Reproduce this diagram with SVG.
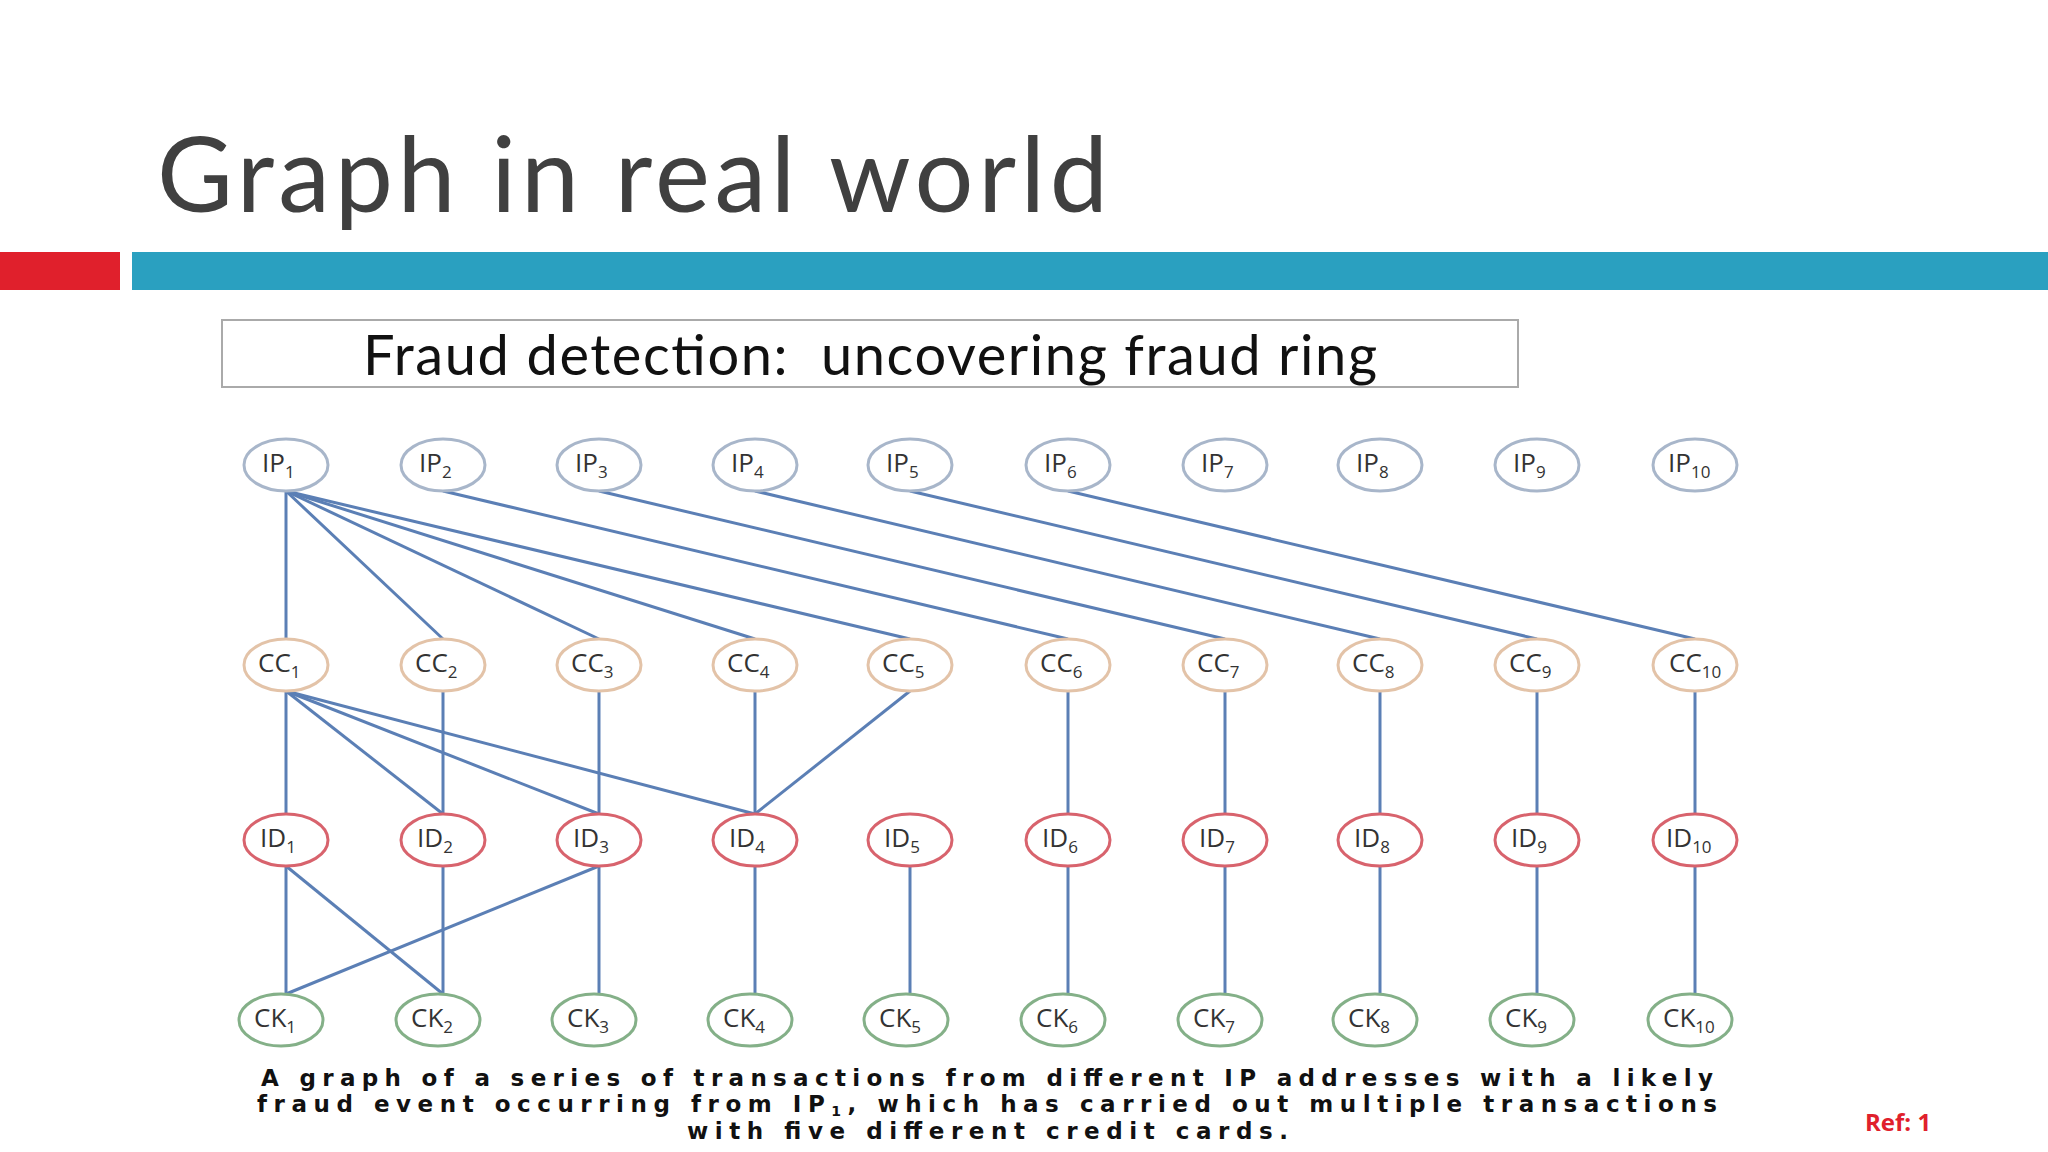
<svg xmlns="http://www.w3.org/2000/svg" width="2048" height="1152" viewBox="0 0 2048 1152">
<style>
.t{font-family:"Open Sans","DejaVu Sans",sans-serif;font-size:26px;fill:#333}
.s{font-size:17px}
.n{fill:#fff;stroke-width:3}
.ip{stroke:#a8b6ca}.cc{stroke:#e3c3a8}.id{stroke:#d8636d}.ck{stroke:#84b088}
#edges line{stroke:#5b7fb5;stroke-width:3}
.cap{font-family:"DejaVu Sans","Open Sans",sans-serif;font-weight:bold;font-size:23px;fill:#111}
</style>
<rect width="2048" height="1152" fill="#fff"/>
<text x="157" y="212" font-family="Lato,'Open Sans',sans-serif" font-size="104" fill="#404040" textLength="951" lengthAdjust="spacing">Graph in real world</text>
<rect x="0" y="252" width="120" height="38" fill="#e0202c"/>
<rect x="132" y="252" width="1916" height="38" fill="#2aa0c0"/>
<g id="header"><rect x="222" y="320" width="1296" height="67" fill="#fff" stroke="#aaa" stroke-width="2"/>
<text x="363" y="375" font-family="Lato,'Open Sans',sans-serif" font-size="56" fill="#111" xml:space="preserve" textLength="1014" lengthAdjust="spacing">Fraud detection:  uncovering fraud ring</text></g>
<g id="edges">
<line x1="286" y1="491" x2="286" y2="639"/><line x1="286" y1="491" x2="443" y2="639"/><line x1="286" y1="491" x2="599" y2="639"/><line x1="286" y1="491" x2="755" y2="639"/><line x1="286" y1="491" x2="910" y2="639"/>
<line x1="443" y1="491" x2="1068" y2="639"/><line x1="599" y1="491" x2="1225" y2="639"/><line x1="755" y1="491" x2="1380" y2="639"/><line x1="910" y1="491" x2="1537" y2="639"/><line x1="1068" y1="491" x2="1695" y2="639"/>
<line x1="286" y1="691" x2="286" y2="814"/><line x1="286" y1="691" x2="443" y2="814"/><line x1="286" y1="691" x2="599" y2="814"/><line x1="286" y1="691" x2="755" y2="814"/>
<line x1="443" y1="691" x2="443" y2="814"/><line x1="599" y1="691" x2="599" y2="814"/><line x1="755" y1="691" x2="755" y2="814"/><line x1="910" y1="691" x2="755" y2="814"/>
<line x1="1068" y1="691" x2="1068" y2="814"/><line x1="1225" y1="691" x2="1225" y2="814"/><line x1="1380" y1="691" x2="1380" y2="814"/><line x1="1537" y1="691" x2="1537" y2="814"/><line x1="1695" y1="691" x2="1695" y2="814"/>
<line x1="286" y1="866" x2="286" y2="994"/><line x1="286" y1="866" x2="443" y2="994"/><line x1="443" y1="866" x2="443" y2="994"/><line x1="599" y1="866" x2="286" y2="994"/><line x1="599" y1="866" x2="599" y2="994"/>
<line x1="755" y1="866" x2="755" y2="994"/><line x1="910" y1="866" x2="910" y2="994"/><line x1="1068" y1="866" x2="1068" y2="994"/><line x1="1225" y1="866" x2="1225" y2="994"/><line x1="1380" y1="866" x2="1380" y2="994"/><line x1="1537" y1="866" x2="1537" y2="994"/><line x1="1695" y1="866" x2="1695" y2="994"/>
</g>
<g id="nodes">
<g id="IP1"><ellipse class="n ip" cx="286" cy="465" rx="42" ry="26"/><text class="t" x="262" y="472">IP<tspan class="s" dy="6">1</tspan></text></g>
<g id="IP2"><ellipse class="n ip" cx="443" cy="465" rx="42" ry="26"/><text class="t" x="419" y="472">IP<tspan class="s" dy="6">2</tspan></text></g>
<g id="IP3"><ellipse class="n ip" cx="599" cy="465" rx="42" ry="26"/><text class="t" x="575" y="472">IP<tspan class="s" dy="6">3</tspan></text></g>
<g id="IP4"><ellipse class="n ip" cx="755" cy="465" rx="42" ry="26"/><text class="t" x="731" y="472">IP<tspan class="s" dy="6">4</tspan></text></g>
<g id="IP5"><ellipse class="n ip" cx="910" cy="465" rx="42" ry="26"/><text class="t" x="886" y="472">IP<tspan class="s" dy="6">5</tspan></text></g>
<g id="IP6"><ellipse class="n ip" cx="1068" cy="465" rx="42" ry="26"/><text class="t" x="1044" y="472">IP<tspan class="s" dy="6">6</tspan></text></g>
<g id="IP7"><ellipse class="n ip" cx="1225" cy="465" rx="42" ry="26"/><text class="t" x="1201" y="472">IP<tspan class="s" dy="6">7</tspan></text></g>
<g id="IP8"><ellipse class="n ip" cx="1380" cy="465" rx="42" ry="26"/><text class="t" x="1356" y="472">IP<tspan class="s" dy="6">8</tspan></text></g>
<g id="IP9"><ellipse class="n ip" cx="1537" cy="465" rx="42" ry="26"/><text class="t" x="1513" y="472">IP<tspan class="s" dy="6">9</tspan></text></g>
<g id="IP10"><ellipse class="n ip" cx="1695" cy="465" rx="42" ry="26"/><text class="t" x="1668" y="472">IP<tspan class="s" dy="6">10</tspan></text></g>
<g id="CC1"><ellipse class="n cc" cx="286" cy="665" rx="42" ry="26"/><text class="t" x="258" y="672">CC<tspan class="s" dy="6">1</tspan></text></g>
<g id="CC2"><ellipse class="n cc" cx="443" cy="665" rx="42" ry="26"/><text class="t" x="415" y="672">CC<tspan class="s" dy="6">2</tspan></text></g>
<g id="CC3"><ellipse class="n cc" cx="599" cy="665" rx="42" ry="26"/><text class="t" x="571" y="672">CC<tspan class="s" dy="6">3</tspan></text></g>
<g id="CC4"><ellipse class="n cc" cx="755" cy="665" rx="42" ry="26"/><text class="t" x="727" y="672">CC<tspan class="s" dy="6">4</tspan></text></g>
<g id="CC5"><ellipse class="n cc" cx="910" cy="665" rx="42" ry="26"/><text class="t" x="882" y="672">CC<tspan class="s" dy="6">5</tspan></text></g>
<g id="CC6"><ellipse class="n cc" cx="1068" cy="665" rx="42" ry="26"/><text class="t" x="1040" y="672">CC<tspan class="s" dy="6">6</tspan></text></g>
<g id="CC7"><ellipse class="n cc" cx="1225" cy="665" rx="42" ry="26"/><text class="t" x="1197" y="672">CC<tspan class="s" dy="6">7</tspan></text></g>
<g id="CC8"><ellipse class="n cc" cx="1380" cy="665" rx="42" ry="26"/><text class="t" x="1352" y="672">CC<tspan class="s" dy="6">8</tspan></text></g>
<g id="CC9"><ellipse class="n cc" cx="1537" cy="665" rx="42" ry="26"/><text class="t" x="1509" y="672">CC<tspan class="s" dy="6">9</tspan></text></g>
<g id="CC10"><ellipse class="n cc" cx="1695" cy="665" rx="42" ry="26"/><text class="t" x="1669" y="672">CC<tspan class="s" dy="6">10</tspan></text></g>
<g id="ID1"><ellipse class="n id" cx="286" cy="840" rx="42" ry="26"/><text class="t" x="260" y="847">ID<tspan class="s" dy="6">1</tspan></text></g>
<g id="ID2"><ellipse class="n id" cx="443" cy="840" rx="42" ry="26"/><text class="t" x="417" y="847">ID<tspan class="s" dy="6">2</tspan></text></g>
<g id="ID3"><ellipse class="n id" cx="599" cy="840" rx="42" ry="26"/><text class="t" x="573" y="847">ID<tspan class="s" dy="6">3</tspan></text></g>
<g id="ID4"><ellipse class="n id" cx="755" cy="840" rx="42" ry="26"/><text class="t" x="729" y="847">ID<tspan class="s" dy="6">4</tspan></text></g>
<g id="ID5"><ellipse class="n id" cx="910" cy="840" rx="42" ry="26"/><text class="t" x="884" y="847">ID<tspan class="s" dy="6">5</tspan></text></g>
<g id="ID6"><ellipse class="n id" cx="1068" cy="840" rx="42" ry="26"/><text class="t" x="1042" y="847">ID<tspan class="s" dy="6">6</tspan></text></g>
<g id="ID7"><ellipse class="n id" cx="1225" cy="840" rx="42" ry="26"/><text class="t" x="1199" y="847">ID<tspan class="s" dy="6">7</tspan></text></g>
<g id="ID8"><ellipse class="n id" cx="1380" cy="840" rx="42" ry="26"/><text class="t" x="1354" y="847">ID<tspan class="s" dy="6">8</tspan></text></g>
<g id="ID9"><ellipse class="n id" cx="1537" cy="840" rx="42" ry="26"/><text class="t" x="1511" y="847">ID<tspan class="s" dy="6">9</tspan></text></g>
<g id="ID10"><ellipse class="n id" cx="1695" cy="840" rx="42" ry="26"/><text class="t" x="1666" y="847">ID<tspan class="s" dy="6">10</tspan></text></g>
<g id="CK1"><ellipse class="n ck" cx="281" cy="1020" rx="42" ry="26"/><text class="t" x="254" y="1027">CK<tspan class="s" dy="6">1</tspan></text></g>
<g id="CK2"><ellipse class="n ck" cx="438" cy="1020" rx="42" ry="26"/><text class="t" x="411" y="1027">CK<tspan class="s" dy="6">2</tspan></text></g>
<g id="CK3"><ellipse class="n ck" cx="594" cy="1020" rx="42" ry="26"/><text class="t" x="567" y="1027">CK<tspan class="s" dy="6">3</tspan></text></g>
<g id="CK4"><ellipse class="n ck" cx="750" cy="1020" rx="42" ry="26"/><text class="t" x="723" y="1027">CK<tspan class="s" dy="6">4</tspan></text></g>
<g id="CK5"><ellipse class="n ck" cx="906" cy="1020" rx="42" ry="26"/><text class="t" x="879" y="1027">CK<tspan class="s" dy="6">5</tspan></text></g>
<g id="CK6"><ellipse class="n ck" cx="1063" cy="1020" rx="42" ry="26"/><text class="t" x="1036" y="1027">CK<tspan class="s" dy="6">6</tspan></text></g>
<g id="CK7"><ellipse class="n ck" cx="1220" cy="1020" rx="42" ry="26"/><text class="t" x="1193" y="1027">CK<tspan class="s" dy="6">7</tspan></text></g>
<g id="CK8"><ellipse class="n ck" cx="1375" cy="1020" rx="42" ry="26"/><text class="t" x="1348" y="1027">CK<tspan class="s" dy="6">8</tspan></text></g>
<g id="CK9"><ellipse class="n ck" cx="1532" cy="1020" rx="42" ry="26"/><text class="t" x="1505" y="1027">CK<tspan class="s" dy="6">9</tspan></text></g>
<g id="CK10"><ellipse class="n ck" cx="1690" cy="1020" rx="42" ry="26"/><text class="t" x="1663" y="1027">CK<tspan class="s" dy="6">10</tspan></text></g>
</g>
<g id="caption">
<text class="cap" x="261" y="1086" textLength="1452" lengthAdjust="spacing">A graph of a series of transactions from different IP addresses with a likely</text>
<text class="cap" x="257" y="1112" textLength="1460" lengthAdjust="spacing">fraud event occurring from IP<tspan font-size="14" dy="4">1</tspan><tspan dy="-4">, which has carried out multiple transactions</tspan></text>
<text class="cap" x="687" y="1139" textLength="601" lengthAdjust="spacing">with five different credit cards.</text>
</g>
<text x="1865" y="1131" font-family="'Open Sans',sans-serif" font-weight="bold" font-size="24" fill="#e0202c">Ref: 1</text>
</svg>
